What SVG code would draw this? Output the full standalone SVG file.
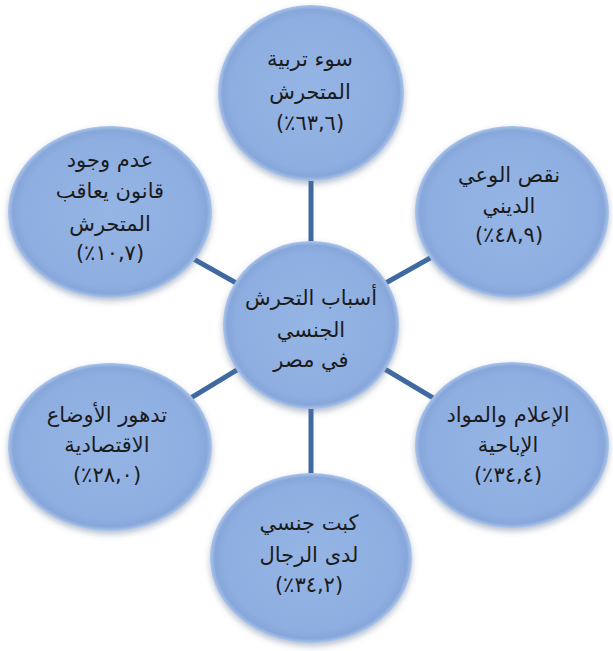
<svg xmlns="http://www.w3.org/2000/svg" width="613" height="651" viewBox="0 0 613 651">
  <defs>
    <radialGradient id="ballFill" cx="0.5" cy="0.5" r="0.5">
      <stop offset="0" stop-color="#95b5e5"/>
      <stop offset="0.86" stop-color="#8eaee1"/>
      <stop offset="0.95" stop-color="#87a7da"/>
      <stop offset="1" stop-color="#abc4eb"/>
    </radialGradient>
    <filter id="soft" x="-20%" y="-20%" width="140%" height="150%">
      <feGaussianBlur in="SourceAlpha" stdDeviation="3"/>
      <feOffset dy="3" result="b"/>
      <feFlood flood-color="#5a6f90" flood-opacity="0.45"/>
      <feComposite in2="b" operator="in" result="shadow"/>
      <feMerge>
        <feMergeNode in="shadow"/>
        <feMergeNode in="SourceGraphic"/>
      </feMerge>
    </filter>
  </defs>
  <style>
    .ball { fill: url(#ballFill); filter: url(#soft); }
    .link { stroke: #3f6aa1; stroke-width: 5; fill: none; }
    text { font-family: "DejaVu Sans", "Noto Sans", sans-serif; font-size: 21px; fill: #1b1b1b; text-anchor: middle; }
    .ar { direction: rtl; }
    .pc { direction: ltr; unicode-bidi: bidi-override; }
  </style>

  <rect width="613" height="651" fill="#ffffff"/>

  <!-- spokes from the hub to each cause -->
  <g id="connectors">
    <line class="link" x1="311" y1="325" x2="311" y2="93"/>
    <line class="link" x1="311" y1="325" x2="512" y2="212"/>
    <line class="link" x1="311" y1="325" x2="512" y2="445"/>
    <line class="link" x1="311" y1="325" x2="311" y2="558"/>
    <line class="link" x1="311" y1="325" x2="110" y2="447"/>
    <line class="link" x1="311" y1="325" x2="110" y2="212"/>
  </g>

  <g id="hub">
    <ellipse class="ball" cx="311" cy="325" rx="88" ry="84"/>
    <text class="ar" x="311" y="305">أسباب التحرش</text>
    <text class="ar" x="311" y="337">الجنسي</text>
    <text class="ar" x="311" y="367">في مصر</text>
  </g>

  <g id="cause-top">
    <ellipse class="ball" cx="311" cy="93" rx="93" ry="88"/>
    <text class="ar" x="310" y="66">سوء تربية</text>
    <text class="ar" x="310" y="99">المتحرش</text>
    <text class="pc" x="310" y="130">(٪٦٣,٦)</text>
  </g>

  <g id="cause-top-right">
    <ellipse class="ball" cx="512" cy="212" rx="97" ry="86"/>
    <text class="ar" x="509" y="182">نقص الوعي</text>
    <text class="ar" x="509" y="213">الديني</text>
    <text class="pc" x="509" y="242">(٪٤٨,٩)</text>
  </g>

  <g id="cause-bottom-right">
    <ellipse class="ball" cx="512" cy="445" rx="97" ry="83"/>
    <text class="ar" x="508" y="422">الإعلام والمواد</text>
    <text class="ar" x="508" y="452">الإباحية</text>
    <text class="pc" x="508" y="482">(٪٣٤,٤)</text>
  </g>

  <g id="cause-bottom">
    <ellipse class="ball" cx="311" cy="558" rx="101" ry="85"/>
    <text class="ar" x="309" y="530">كبت جنسي</text>
    <text class="ar" x="309" y="562">لدى الرجال</text>
    <text class="pc" x="309" y="592">(٪٣٤,٢)</text>
  </g>

  <g id="cause-bottom-left">
    <ellipse class="ball" cx="110" cy="447" rx="102" ry="84"/>
    <text class="ar" x="107" y="422">تدهور الأوضاع</text>
    <text class="ar" x="107" y="452">الاقتصادية</text>
    <text class="pc" x="107" y="482">(٪٢٨,٠)</text>
  </g>

  <g id="cause-top-left">
    <ellipse class="ball" cx="110" cy="212" rx="102" ry="86"/>
    <text class="ar" x="110" y="167">عدم وجود</text>
    <text class="ar" x="110" y="198">قانون يعاقب</text>
    <text class="ar" x="110" y="231">المتحرش</text>
    <text class="pc" x="110" y="260">(٪١٠,٧)</text>
  </g>
</svg>
